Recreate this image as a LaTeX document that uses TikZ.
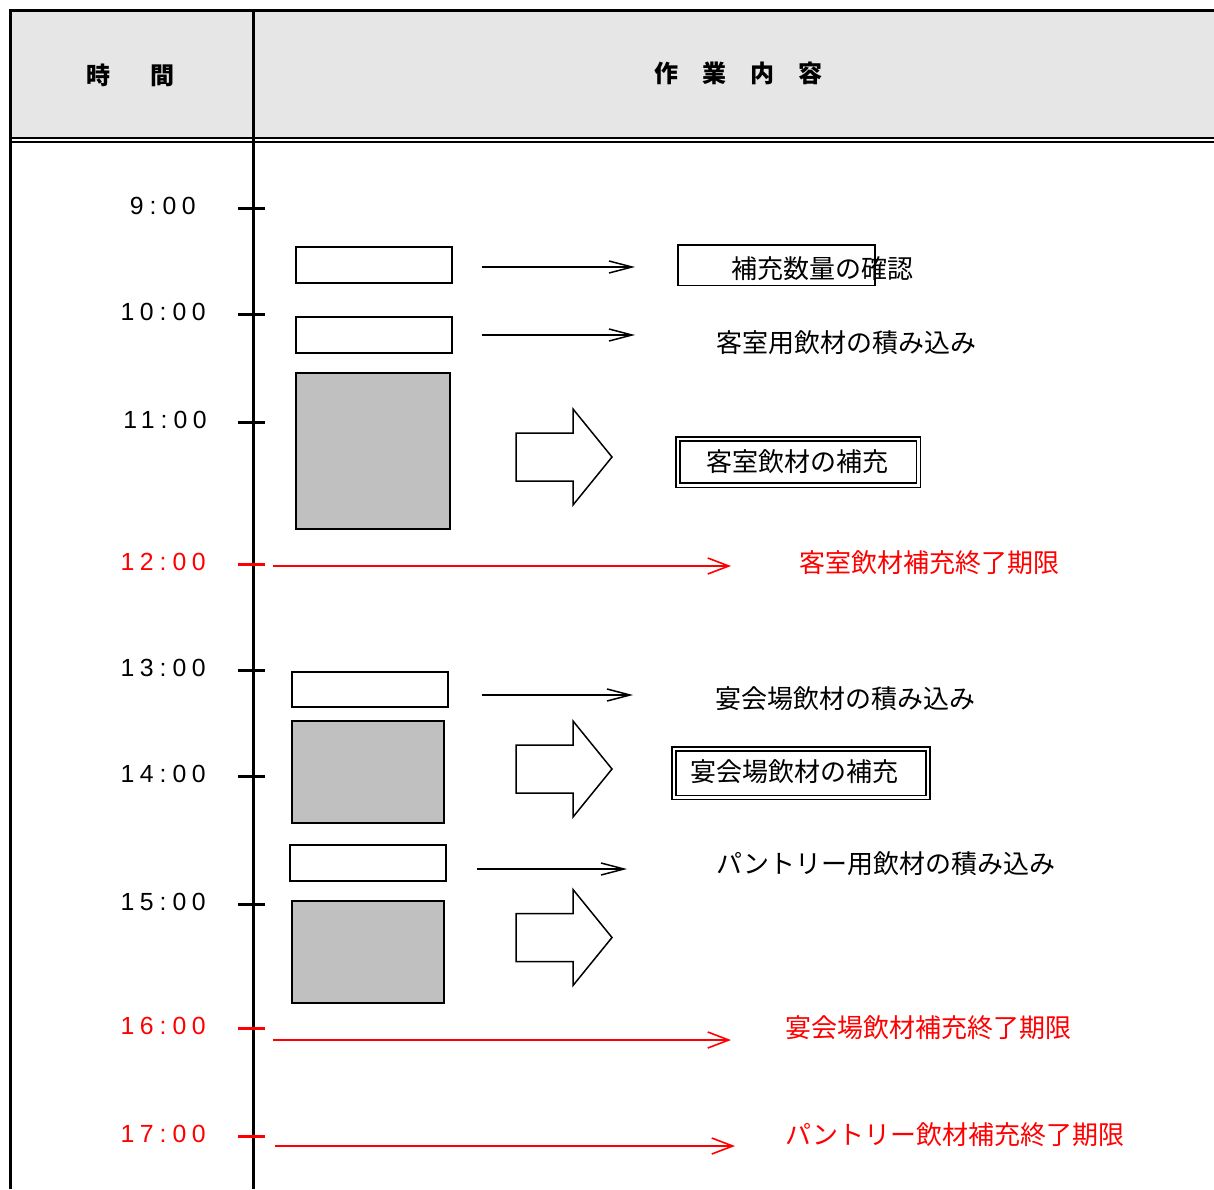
\documentclass[tikz,border=0pt]{standalone}
\usepackage{fontspec}
\setmainfont{Noto Sans CJK JP}
\newfontfamily\timefont[LetterSpace=22]{Liberation Sans}
\usetikzlibrary{arrows.meta,fit}
\definecolor{hdrgray}{RGB}{230,230,230}
\definecolor{boxgray}{RGB}{192,192,192}
\newcommand\hhmm[1]{#1\hspace{3pt}:\hspace{3pt}00}

\begin{document}
\begin{tikzpicture}[
		x=0.5pt, y=-0.5pt,
		frame/.style={line width=1.5pt},
		tick/.style={line width=1.5pt},
		wbox/.style={draw, line width=0.8pt, fill=white, inner sep=0pt},
		gbox/.style={draw, line width=0.8pt, fill=boxgray, inner sep=0pt},
		sbox/.style={draw, line width=0.7pt, inner sep=0pt},
		dbox/.style={draw, double, double distance=1.4pt, line width=0.7pt, inner sep=0pt},
		thinarr/.style={line width=0.75pt, -{Straight Barb[length=11.5pt,width=6pt]}},
		redarr/.style={red, line width=0.8pt, -{Straight Barb[length=10.5pt,width=8pt]}},
		bigarr/.style={draw, line width=0.75pt, fill=white},
		task/.style={anchor=west, inner sep=0pt, font=\fontsize{13pt}{15pt}\selectfont},
		due/.style={task, text=red},
		hdr/.style={inner sep=0pt, font=\fontsize{12pt}{14pt}\selectfont\bfseries},
		clock/.style={anchor=east, inner sep=0pt, font=\timefont\fontsize{12.4pt}{14pt}\selectfont}
	]
	\useasboundingbox (0,0) rectangle (1214,1189);

	% header
	\fill[hdrgray] (10,10) rectangle (1214,138);
	\draw[frame] (9,10.5) -- (1214,10.5);
	\draw[line width=1pt] (10,138) -- (1214,138);
	\draw[line width=1pt] (10,142) -- (1214,142);
	\draw[frame] (10.5,9) -- (10.5,1189);
	\draw[frame] (253.5,9) -- (253.5,1189);
	\node[hdr] (hdtime) at (130.5,75) {時\hspace{20.5pt}間};
	\node[hdr] (hdwork) at (738,73.5) {作\hspace{12pt}業\hspace{12pt}内\hspace{12pt}容};

	% time axis
	\foreach \y/\h/\x/\c in {208/9/196/black, 314/10/206/black, 422/11/207/black,
			564/12/206/red, 670/13/206/black, 776/14/206/black, 904/15/206/black,
			1028/16/206/red, 1136/17/206/red}
		{
			\draw[tick, \c] (238,\y) -- (265,\y);
			\node[clock, text=\c] (clk\y) at (\x,\y-2.5) {\hhmm{\h}};
		}

	% work blocks
	\node[wbox, fit={(296,247) (452,283)}] (chkbar) {};
	\node[wbox, fit={(296,317) (452,353)}] (loadbar1) {};
	\node[gbox, fit={(296,373) (450,529)}] (fillbar1) {};
	\node[wbox, fit={(292,672) (448,707)}] (loadbar2) {};
	\node[gbox, fit={(292,721) (444,823)}] (fillbar2) {};
	\node[wbox, fit={(290,845) (446,881)}] (loadbar3) {};
	\node[gbox, fit={(292,901) (444,1003)}] (fillbar3) {};

	% block arrows
	\foreach \y in {457,769,937.5}
		\draw[bigarr] (516,\y-24) -- (573,\y-24) -- (573,\y-48) -- (612,\y)
			-- (573,\y+48) -- (573,\y+24) -- (516,\y+24) -- cycle;

	% thin arrows
	\coordinate (chkfrom) at (482,267);
	\coordinate (chkto) at (635,267);
	\coordinate (load1from) at (482,335);
	\coordinate (load1to) at (635,335);
	\coordinate (load2from) at (482,695);
	\coordinate (load2to) at (633,695);
	\coordinate (load3from) at (477,869);
	\coordinate (load3to) at (627,869);
	\draw[thinarr] (chkfrom) -- (chkto);
	\draw[thinarr] (load1from) -- (load1to);
	\draw[thinarr] (load2from) -- (load2to);
	\draw[thinarr] (load3from) -- (load3to);

	% deadlines
	\coordinate (due1from) at (273,566);
	\coordinate (due1to) at (731,566);
	\coordinate (due2from) at (273,1040);
	\coordinate (due2to) at (731,1040);
	\coordinate (due3from) at (275,1146);
	\coordinate (due3to) at (735,1146);
	\draw[redarr] (due1from) -- (due1to);
	\draw[redarr] (due2from) -- (due2to);
	\draw[redarr] (due3from) -- (due3to);

	% task texts
	\node[sbox, fit={(678,245) (875,285.5)}] (chkbox) {};
	\node[task] (chktxt) at (731,269) {補充数量の確認};
	\node[task] (load1txt) at (716,342.5) {客室用飲材の積み込み};
	\node[dbox, fit={(678,439) (918.5,485.2)}] (fill1box) {};
	\node[task] (fill1txt) at (706,462) {客室飲材の補充};
	\node[task] (load2txt) at (715,699) {宴会場飲材の積み込み};
	\node[dbox, fit={(674,749) (928,797.5)}] (fill2box) {};
	\node[task] (fill2txt) at (690,772) {宴会場飲材の補充};
	\node[task] (load3txt) at (716,864) {パントリー用飲材の積み込み};
	\node[due] (due1txt) at (799,563) {客室飲材補充終了期限};
	\node[due] (due2txt) at (785,1028) {宴会場飲材補充終了期限};
	\node[due] (due3txt) at (785,1135) {パントリー飲材補充終了期限};
\end{tikzpicture}
\end{document}
